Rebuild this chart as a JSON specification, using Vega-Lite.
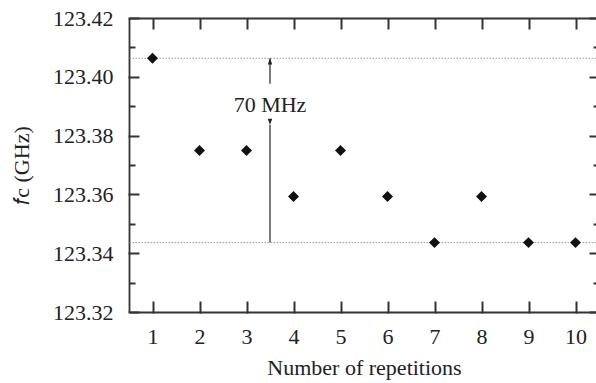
{
  "$schema": "https://vega.github.io/schema/vega-lite/v6.json",
  "autosize": "none",
  "width": 470,
  "height": 294,
  "padding": {"left": 129, "top": 18, "right": 0, "bottom": 71},
  "background": "white",
  "config": {
    "view": {"stroke": null},
    "font": "Liberation Serif",
    "axis": {
      "domainColor": "#333",
      "domainWidth": 1.8,
      "labelFont": "Liberation Serif",
      "titleFont": "Liberation Serif",
      "labelFontSize": 22,
      "titleFontSize": 22,
      "labelColor": "#222",
      "titleColor": "#222",
      "titleFontWeight": "normal",
      "grid": false
    }
  },
  "datasets": {
    "pts": [
      {"rep": 1, "fc": 123.4063},
      {"rep": 2, "fc": 123.3749},
      {"rep": 3, "fc": 123.3749},
      {"rep": 4, "fc": 123.3593},
      {"rep": 5, "fc": 123.3749},
      {"rep": 6, "fc": 123.3593},
      {"rep": 7, "fc": 123.3436},
      {"rep": 8, "fc": 123.3593},
      {"rep": 9, "fc": 123.3436},
      {"rep": 10, "fc": 123.3436}
    ],
    "levels": [{"fc": 123.4063}, {"fc": 123.3436}],
    "arrow": [
      {"x": 3.5, "y1": 123.4063, "y2": 123.3976, "dir": "up"},
      {"x": 3.5, "y1": 123.3836, "y2": 123.3436, "dir": "down"}
    ],
    "label": [{"x": 3.5, "y": 123.3904, "text": "70 MHz"}]
  },
  "layer": [
    {
      "data": {"name": "levels"},
      "mark": {"type": "rule", "color": "#999", "strokeWidth": 1, "strokeDash": [1.5, 1.5]},
      "encoding": {
        "y": {
          "field": "fc", "type": "quantitative",
          "scale": {"domain": [123.32, 123.42], "nice": false, "zero": false},
          "axis": {
            "orient": "right",
            "values": [123.32, 123.34, 123.36, 123.38, 123.40, 123.42],
            "domain": false, "labels": false, "title": null, "ticks": true,
            "tickColor": "#333", "tickWidth": 2,
            "offset": -10, "tickSize": 10
          }
        }
      }
    },
    {
      "data": {"name": "pts"},
      "mark": {"type": "point", "shape": "diamond", "filled": true, "color": "#111", "size": 120, "opacity": 1},
      "encoding": {
        "x": {
          "field": "rep", "type": "quantitative",
          "scale": {"domain": [0.5, 10.5], "nice": false, "zero": false},
          "axis": {
            "orient": "bottom",
            "values": [1, 2, 3, 4, 5, 6, 7, 8, 9, 10],
            "ticks": true, "tickSize": 1, "tickColor": "#333", "tickWidth": 2,
            "labelPadding": 13,
            "title": "Number of repetitions",
            "titlePadding": 10
          }
        },
        "y": {
          "field": "fc", "type": "quantitative",
          "scale": {"domain": [123.32, 123.42], "nice": false, "zero": false},
          "axis": {
            "orient": "left",
            "values": [123.32, 123.34, 123.36, 123.38, 123.40, 123.42],
            "format": ".2f",
            "ticks": true, "tickSize": 1, "tickColor": "#333", "tickWidth": 2,
            "labelPadding": 15,
            "title": "𝑓c (GHz)",
            "titlePadding": 19
          }
        }
      }
    },
    {
      "data": {"name": "arrow"},
      "mark": {"type": "rule", "color": "#222", "strokeWidth": 1.2},
      "encoding": {
        "x": {
          "field": "x", "type": "quantitative",
          "scale": {"domain": [0.5, 10.5], "nice": false, "zero": false},
          "axis": {
            "orient": "top",
            "values": [1, 2, 3, 4, 5, 6, 7, 8, 9, 10],
            "labels": false, "ticks": true, "tickSize": -11,
            "tickColor": "#333", "tickWidth": 2,
            "title": null
          }
        },
        "y": {
          "field": "y1", "type": "quantitative",
          "scale": {"domain": [123.32, 123.42], "nice": false, "zero": false},
          "axis": {
            "orient": "left",
            "values": [123.32, 123.34, 123.36, 123.38, 123.40, 123.42],
            "domain": false, "labels": false, "title": null, "ticks": true,
            "tickColor": "#333", "tickWidth": 2,
            "offset": -10, "tickSize": 10
          }
        },
        "y2": {"field": "y2"}
      }
    },
    {
      "data": {"name": "arrow"},
      "mark": {"type": "point", "filled": true, "color": "#222", "size": 160, "opacity": 1, "strokeWidth": 0},
      "encoding": {
        "x": {
          "field": "x", "type": "quantitative",
          "scale": {"domain": [0.5, 10.5], "nice": false, "zero": false},
          "axis": {
            "orient": "bottom",
            "values": [1, 2, 3, 4, 5, 6, 7, 8, 9, 10],
            "domain": false, "labels": false, "title": null, "ticks": true,
            "tickColor": "#333", "tickWidth": 2,
            "offset": -11, "tickSize": 11
          }
        },
        "y": {
          "field": "y1", "type": "quantitative",
          "scale": {"domain": [123.32, 123.42], "nice": false, "zero": false},
          "axis": {
            "orient": "left",
            "values": [123.33, 123.35, 123.37, 123.39, 123.41],
            "domain": false, "labels": false, "title": null, "ticks": true,
            "tickColor": "#333", "tickWidth": 2,
            "offset": -6, "tickSize": 6
          }
        },
        "shape": {
          "field": "dir", "type": "nominal",
          "scale": {"domain": ["up", "down"], "range": ["M0,0L0.35,1L-0.35,1Z", "M0,0L0.35,-1L-0.35,-1Z"]},
          "legend": null
        }
      }
    },
    {
      "data": {"name": "label"},
      "mark": {"type": "text", "font": "Liberation Serif", "fontSize": 22, "color": "#222", "align": "center", "baseline": "middle"},
      "encoding": {
        "x": {"field": "x", "type": "quantitative", "scale": {"domain": [0.5, 10.5], "nice": false, "zero": false}, "axis": null},
        "y": {
          "field": "y", "type": "quantitative",
          "scale": {"domain": [123.32, 123.42], "nice": false, "zero": false},
          "axis": {
            "orient": "right",
            "values": [123.33, 123.35, 123.37, 123.39, 123.41],
            "domain": false, "labels": false, "title": null, "ticks": true,
            "tickColor": "#333", "tickWidth": 2,
            "offset": -6, "tickSize": 6
          }
        },
        "text": {"field": "text"}
      }
    }
  ],
  "resolve": {"axis": {"x": "independent", "y": "independent"}}
}
